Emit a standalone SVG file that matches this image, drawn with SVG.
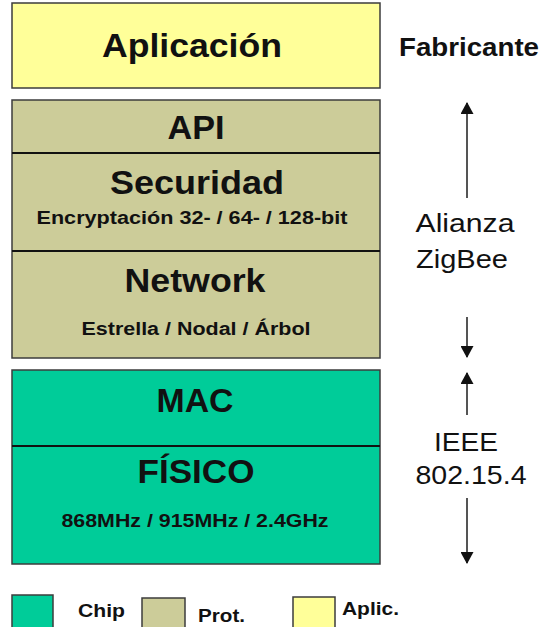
<svg xmlns="http://www.w3.org/2000/svg" width="544" height="627" viewBox="0 0 544 627">
<style>
.box{stroke:#3c3c3c;stroke-width:1.5}
.app{fill:#FFFF99}
.prot{fill:#CCCC99}
.chip{fill:#00CC99}
.div{stroke:#111;stroke-width:2}
.t{font-family:"Liberation Sans",Arial,sans-serif;font-weight:bold;fill:#111;text-anchor:middle}
.big{font-size:33px}
.sm{font-size:18px}
.side{font-family:"Liberation Sans",Arial,sans-serif;fill:#111;text-anchor:middle;font-size:26px}
.leg{font-family:"Liberation Sans",Arial,sans-serif;font-weight:bold;fill:#111;font-size:18px}
.arr{stroke:#555;stroke-width:2;fill:none}
</style>
<defs>
<marker id="ah" viewBox="0 0 12 13" refX="11" refY="6.5" markerWidth="12" markerHeight="13" markerUnits="userSpaceOnUse" orient="auto">
<path d="M0,0 L12,6.5 L0,13 Z" fill="#111"/>
</marker>
</defs>
<g id="aplicacion">
<rect class="box app" x="12" y="3" width="368" height="85"/>
<text class="t big" x="192" y="57" textLength="180" lengthAdjust="spacingAndGlyphs">Aplicación</text>
</g>
<g id="protocolo">
<rect class="box prot" x="12" y="100" width="368" height="258"/>
<line class="div" x1="12" y1="153" x2="380" y2="153"/>
<line class="div" x1="12" y1="251" x2="380" y2="251"/>
</g>
<g id="api">
<text class="t big" x="196" y="139" textLength="57" lengthAdjust="spacingAndGlyphs">API</text>
</g>
<g id="securidad">
<text class="t big" x="197" y="194" textLength="174" lengthAdjust="spacingAndGlyphs">Securidad</text>
<text class="t sm" x="192" y="224" textLength="311" lengthAdjust="spacingAndGlyphs">Encryptación 32- / 64- / 128-bit</text>
</g>
<g id="network">
<text class="t big" x="195" y="292" textLength="141" lengthAdjust="spacingAndGlyphs">Network</text>
<text class="t sm" x="196" y="335" textLength="229" lengthAdjust="spacingAndGlyphs">Estrella / Nodal / Árbol</text>
</g>
<g id="chipstack">
<rect class="box chip" x="12" y="370" width="368" height="194"/>
<line class="div" x1="12" y1="446" x2="380" y2="446"/>
</g>
<g id="mac">
<text class="t big" x="195" y="412" textLength="77" lengthAdjust="spacingAndGlyphs">MAC</text>
</g>
<g id="fisico">
<text class="t big" x="196" y="483" textLength="117" lengthAdjust="spacingAndGlyphs">FÍSICO</text>
<text class="t sm" x="195" y="527" textLength="267" lengthAdjust="spacingAndGlyphs">868MHz / 915MHz / 2.4GHz</text>
</g>
<g id="fabricante">
<text class="t" style="font-size:25px" x="469" y="56" textLength="140" lengthAdjust="spacingAndGlyphs">Fabricante</text>
</g>
<g id="alianza">
<text class="side" x="465" y="232" textLength="99" lengthAdjust="spacingAndGlyphs">Alianza</text>
<text class="side" x="462" y="268" textLength="92" lengthAdjust="spacingAndGlyphs">ZigBee</text>
</g>
<g id="ieee">
<text class="side" x="466" y="451" textLength="64" lengthAdjust="spacingAndGlyphs">IEEE</text>
<text class="side" x="471" y="484" textLength="111" lengthAdjust="spacingAndGlyphs">802.15.4</text>
</g>
<g id="connectors">
<line class="arr" x1="467" y1="198" x2="467" y2="103" marker-end="url(#ah)"/>
<line class="arr" x1="467" y1="317" x2="467" y2="357" marker-end="url(#ah)"/>
<line class="arr" x1="467" y1="415" x2="467" y2="373" marker-end="url(#ah)"/>
<line class="arr" x1="467" y1="498" x2="467" y2="563" marker-end="url(#ah)"/>
</g>
<g id="legend">
<rect class="box chip" x="12" y="595" width="41" height="40"/>
<text class="leg" x="78" y="617" textLength="47" lengthAdjust="spacingAndGlyphs">Chip</text>
<rect class="box prot" x="142" y="598" width="43" height="40"/>
<text class="leg" x="198" y="622" textLength="47" lengthAdjust="spacingAndGlyphs">Prot.</text>
<rect class="box app" x="293" y="597" width="42" height="40"/>
<text class="leg" x="342" y="615" textLength="57" lengthAdjust="spacingAndGlyphs">Aplic.</text>
</g>
</svg>
